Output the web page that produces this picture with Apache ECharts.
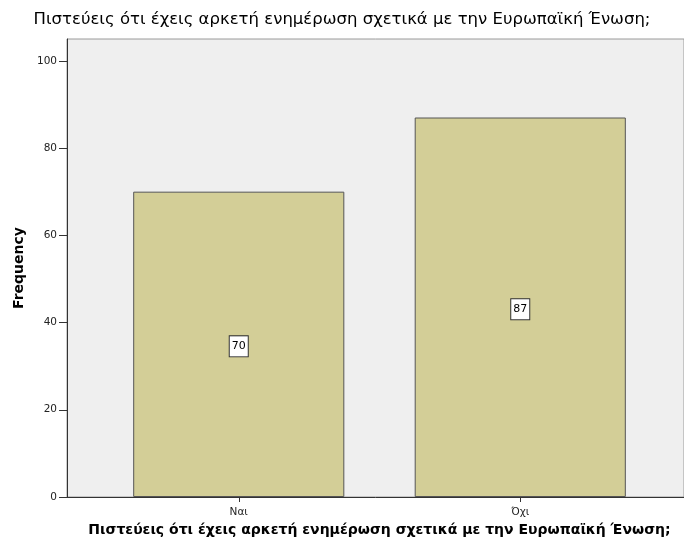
<!DOCTYPE html>
<html>
<head>
<meta charset="utf-8">
<script src="https://cdn.jsdelivr.net/npm/echarts@6/dist/echarts.min.js"></script>
<style>
  html, body { margin: 0; padding: 0; background: #fff; }
  #myEchart { width: 684px; height: 548px; }
</style>
</head>
<body>
<div id="myEchart"></div>
<script>
  // data
  var categories = ['Ναι', 'Όχι'];
  var frequency = [70, 87];
  var yTicks = [0, 20, 40, 60, 80, 100];

  var questionText = 'Πιστεύεις ότι έχεις αρκετή ενημέρωση σχετικά με την Ευρωπαϊκή Ένωση;';

  var myEchart = echarts.init(document.getElementById('myEchart'));

  var option = {
    animation: false,
    textStyle: { fontFamily: 'DejaVu Sans, Verdana, sans-serif' },
    title: {
      text: questionText,
      left: 'center',
      top: 6,
      textStyle: { fontSize: 16.5, fontWeight: 'normal', color: '#000', fontFamily: 'DejaVu Sans' }
    },
    grid: [
      // frame with grey background
      { left: 67, right: 0, top: 39, bottom: 51, show: true,
        backgroundColor: '#efefef', borderColor: '#9a9a9a', borderWidth: 1 },
      // bars
      { left: 98, right: 23, top: 39, bottom: 51 }
    ],
    xAxis: [
      {
        gridIndex: 0, type: 'category', data: categories,
        axisLine: { show: true, lineStyle: { color: '#333', width: 1 } },
        axisTick: { show: false }, axisLabel: { show: false }
      },
      {
        gridIndex: 1, type: 'category', data: categories,
        name: questionText, nameLocation: 'middle', nameGap: 19,
        nameTextStyle: { fontSize: 14, fontWeight: 'bold', color: '#000', fontFamily: 'DejaVu Sans' },
        axisLine: { show: false },
        axisTick: { show: true, alignWithLabel: true, length: 5, lineStyle: { color: '#333' } },
        axisLabel: { fontSize: 10.5, color: '#222', margin: 10 }
      }
    ],
    yAxis: [
      {
        gridIndex: 0, type: 'value', min: 0, max: 105,
        name: 'Frequency', nameLocation: 'middle', nameGap: 41,
        nameTextStyle: { fontSize: 14, fontWeight: 'bold', color: '#000', fontFamily: 'DejaVu Sans' },
        axisLine: { show: true, lineStyle: { color: '#333', width: 1 } },
        axisTick: { show: true, length: 8, customValues: yTicks, lineStyle: { color: '#333' } },
        axisLabel: { fontSize: 10.5, color: '#222', margin: 10, customValues: yTicks },
        splitLine: { show: false }
      },
      {
        gridIndex: 1, type: 'value', min: 0, max: 105, show: false,
        splitLine: { show: false }
      }
    ],
    series: [
      {
        type: 'bar',
        xAxisIndex: 1, yAxisIndex: 1,
        data: frequency,
        barCategoryGap: '25%',
        itemStyle: { color: '#d3ce97', borderColor: '#555', borderWidth: 1 },
        label: {
          show: true,
          position: 'inside',
          offset: [0, 2],
          fontSize: 11,
          color: '#000',
          backgroundColor: '#fff',
          borderColor: '#333',
          borderWidth: 1,
          padding: [5, 2, 4, 2]
        }
      }
    ]
  };

  myEchart.setOption(option);
</script>
</body>
</html>
